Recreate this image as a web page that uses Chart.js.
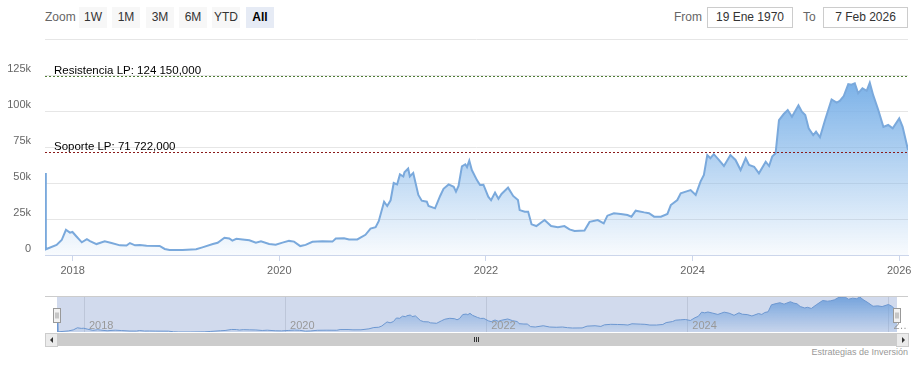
<!DOCTYPE html>
<html>
<head>
<meta charset="utf-8">
<script src="https://cdn.jsdelivr.net/npm/chart.js@4.4.1/dist/chart.umd.min.js"></script>
<style>
  body { margin: 0; width: 921px; height: 366px; background: #fff; position: relative; overflow: hidden;
         font-family: "Liberation Sans", Arial, sans-serif; }
  #zoomLbl { position: absolute; left: 45px; top: 10px; font-size: 12px; color: #666; }
  .btn { position: absolute; top: 7px; height: 21px; width: 28px; background: #f7f7f7; color: #333;
         font-size: 12px; line-height: 21px; text-align: center; }
  .btn.sel { background: #e6ebf5; font-weight: bold; color: #000; }
  .inlbl { position: absolute; top: 10px; font-size: 12px; color: #666; }
  .box { position: absolute; top: 7px; height: 19px; border: 1px solid #ccc; font-size: 12px; line-height: 19px;
         text-align: center; color: #333; background: #fff; }
  #main { position: absolute; left: 0; top: 0; }
  #nav { position: absolute; left: 45px; top: 296px; }
  #track { position: absolute; left: 45px; top: 333px; width: 863px; height: 13px; background: #f2f2f2; }
  .sbtn { position: absolute; top: 333px; width: 11px; height: 12px; background: #ebebeb; border: 1px solid #ccc; }
  .sbtn span { position: absolute; top: 3px; width: 0; height: 0; border-top: 3px solid transparent; border-bottom: 3px solid transparent; }
  #thumb { position: absolute; left: 57px; top: 333px; width: 839px; height: 13px; background: #ccc; }
  #thumb i { position: absolute; top: 4px; width: 1px; height: 5px; background: #333; }
  #credits { position: absolute; right: 13px; top: 347px; font-size: 9px; color: #999; }
</style>
</head>
<body>
<div id="zoomLbl">Zoom</div>
<div class="btn" style="left:79px">1W</div>
<div class="btn" style="left:112px">1M</div>
<div class="btn" style="left:146px">3M</div>
<div class="btn" style="left:179px">6M</div>
<div class="btn" style="left:212px">YTD</div>
<div class="btn sel" style="left:246px">All</div>
<div class="inlbl" style="left:674px">From</div>
<div class="box" style="left:707px;width:84px">19 Ene 1970</div>
<div class="inlbl" style="left:803px">To</div>
<div class="box" style="left:823px;width:83px">7 Feb 2026</div>

<canvas id="main" width="921" height="290"></canvas>
<canvas id="nav" width="863" height="37"></canvas>

<div id="track"></div>
<div class="sbtn" style="left:45px"><span style="left:4px;border-right:3px solid #333"></span></div>
<div class="sbtn" style="left:896px"><span style="left:5px;border-left:3px solid #333"></span></div>
<div id="thumb"><i style="left:417px"></i><i style="left:419px"></i><i style="left:421px"></i></div>
<div id="credits">Estrategias de Inversión</div>

<script>
// weekly-ish closes
const dates = [
  "2017-09-25","2017-09-28","2017-11-05","2017-11-23","2017-12-08","2017-12-22","2017-12-31",
  "2018-01-15","2018-02-02","2018-02-20","2018-03-03","2018-03-26","2018-04-24","2018-05-18",
  "2018-06-17","2018-07-10","2018-07-22","2018-08-09","2018-08-26","2018-09-19","2018-11-04",
  "2018-11-22","2018-12-09","2019-01-24","2019-03-13","2019-04-04","2019-05-11","2019-05-28",
  "2019-06-21","2019-07-08","2019-07-19","2019-08-02","2019-08-24","2019-09-17","2019-10-10",
  "2019-10-28","2019-11-26","2019-12-19","2020-01-12","2020-02-04","2020-02-22","2020-03-15",
  "2020-04-03","2020-04-27","2020-06-01","2020-07-07","2020-07-19","2020-08-17","2020-09-04",
  "2020-10-03","2020-11-01","2020-11-19","2020-12-07","2020-12-18","2021-01-06","2021-01-17",
  "2021-01-29","2021-02-09","2021-02-21","2021-03-03","2021-03-15","2021-03-19","2021-04-01",
  "2021-04-07","2021-04-19","2021-05-07","2021-05-19","2021-06-06","2021-06-12","2021-07-05",
  "2021-07-23","2021-08-04","2021-08-22","2021-09-09","2021-09-17","2021-09-26","2021-10-08",
  "2021-10-20","2021-10-26","2021-11-03","2021-11-12","2021-11-30","2021-12-11","2021-12-23",
  "2022-01-09","2022-01-19","2022-02-02","2022-02-14","2022-02-25","2022-03-20","2022-04-07",
  "2022-04-24","2022-04-30","2022-05-18","2022-05-30","2022-06-11","2022-06-28","2022-07-27",
  "2022-08-19","2022-09-12","2022-10-05","2022-10-23","2022-11-10","2022-12-15","2023-01-02",
  "2023-01-31","2023-02-21","2023-03-06","2023-03-29","2023-04-22","2023-05-16","2023-05-30",
  "2023-06-14","2023-07-14","2023-07-31","2023-08-18","2023-09-11","2023-10-04","2023-10-16",
  "2023-11-08","2023-11-20","2023-12-08","2023-12-25","2024-01-12","2024-01-29","2024-02-10",
  "2024-02-22","2024-03-04","2024-03-16","2024-04-03","2024-04-21","2024-05-14","2024-06-01",
  "2024-06-19","2024-07-07","2024-07-19","2024-08-06","2024-08-23","2024-09-16","2024-09-28",
  "2024-10-09","2024-10-21","2024-11-02","2024-11-19","2024-12-03","2024-12-18","2025-01-10",
  "2025-01-22","2025-02-03","2025-02-15","2025-03-03","2025-03-13","2025-03-27","2025-04-14",
  "2025-05-07","2025-05-25","2025-06-05","2025-06-19","2025-07-05","2025-07-16","2025-07-28",
  "2025-08-09","2025-08-24","2025-09-08","2025-09-19","2025-10-01","2025-10-19","2025-11-06",
  "2025-11-23","2025-12-09","2026-01-01","2026-01-13","2026-02-01"
];
const prices = [
  57000,4000,7000,10400,17500,15500,16000,
  12700,8800,11000,9700,7600,9500,8300,
  6700,6600,8300,6700,6900,6500,6300,
  4200,3500,3500,4000,5300,7600,8500,
  12000,11500,10000,11200,10700,10200,8500,
  9500,7600,7200,8600,9800,9300,6200,
  7000,9200,9500,9300,11500,11600,10700,
  10800,14000,18300,19300,23500,37000,34000,
  38000,50000,49000,56000,54500,57500,60000,
  54500,57000,41700,37700,37000,34000,32400,
  41000,46000,49000,47400,44000,48000,61500,
  63000,61000,65500,59000,52000,48600,48800,
  40500,38000,43300,39000,42400,46800,41000,
  38200,31200,30000,30000,21300,20100,24300,
  20100,19200,20100,17800,16700,17000,23000,
  24300,22000,27300,29000,28500,27800,26600,
  30800,29600,29000,26600,26600,28500,34700,
  38200,42800,44000,45100,41700,51000,55600,
  69400,67200,70000,66000,61800,69400,66000,
  59000,67200,62500,61300,56700,64800,61800,
  68300,70600,93700,97900,100700,96000,104000,
  99500,97200,88000,83300,85600,81700,93700,
  108000,105800,107000,110400,118700,118300,119200,
  112300,115800,114000,119700,111000,100700,89000,
  90300,88000,94900,89000,72900
];
const yTicks = [0, 25000, 50000, 75000, 100000, 125000, 150000];
const yearTicks = [2018, 2020, 2022, 2024, 2026];
const resistencia = 124150;
const soporte = 71722;

function toYear(s) {
  var d = new Date(s + "T00:00:00Z");
  var y = d.getUTCFullYear();
  var start = Date.UTC(y, 0, 1), end = Date.UTC(y + 1, 0, 1);
  return y + (d.getTime() - start) / (end - start);
}
var points = dates.map(function (d, i) { return { x: toYear(d), y: prices[i] }; });
var xMin = points[0].x, xMax = points[points.length - 1].x;
var topPrice = Math.max.apply(null, prices);
var lowPrice = Math.min.apply(null, prices);

Chart.defaults.font.family = '"Liberation Sans", Arial, sans-serif';
Chart.defaults.color = "#666";

function areaFill(context) {
  var chart = context.chart, a = chart.chartArea;
  if (!a) return "rgba(124,178,232,0.4)";
  var y0 = chart.scales.y.getPixelForValue(topPrice);
  var g = chart.ctx.createLinearGradient(0, y0, 0, a.bottom);
  g.addColorStop(0, "rgba(124,178,232,1)");
  g.addColorStop(1, "rgba(124,178,232,0.05)");
  return g;
}

var plotLines = [
  { value: resistencia, color: "#4f7d35", text: "Resistencia LP: 124 150,000" },
  { value: soporte, color: "#8b1a1a", text: "Soporte LP: 71 722,000" }
];

var plotLinePlugin = {
  id: "plotLinePlugin",
  afterDatasetsDraw: function (chart) {
    var ctx = chart.ctx, a = chart.chartArea, y = chart.scales.y;
    plotLines.forEach(function (l) {
      var py = Math.round(y.getPixelForValue(l.value)) + 0.5;
      ctx.save();
      ctx.strokeStyle = l.color;
      ctx.lineWidth = 1;
      ctx.setLineDash([2, 2]);
      ctx.beginPath();
      ctx.moveTo(a.left, py);
      ctx.lineTo(a.right, py);
      ctx.stroke();
      ctx.setLineDash([]);
      ctx.fillStyle = "#000";
      ctx.font = '11.5px "Liberation Sans", Arial, sans-serif';
      ctx.textBaseline = "alphabetic";
      ctx.fillText(l.text, a.left + 9, py - 3);
      ctx.restore();
    });
  }
};

new Chart(document.getElementById("main").getContext("2d"), {
  type: "line",
  data: {
    datasets: [{
      data: points,
      borderColor: "#7aa9dc",
      borderWidth: 2,
      backgroundColor: areaFill,
      fill: "origin",
      pointRadius: 0,
      tension: 0
    }]
  },
  options: {
    responsive: false,
    animation: false,
    devicePixelRatio: 1,
    layout: { padding: { left: 0, right: 13, top: 39, bottom: 0 } },
    plugins: { legend: { display: false }, tooltip: { enabled: false } },
    scales: {
      x: {
        type: "linear",
        min: xMin,
        max: xMax,
        afterBuildTicks: function (s) { s.ticks = yearTicks.map(function (v) { return { value: v }; }); },
        afterFit: function (s) { s.height = 35; },
        grid: { drawOnChartArea: false, drawTicks: true, tickLength: 6, color: "#ccd6eb" },
        border: { display: true, color: "#ccd6eb" },
        ticks: { autoSkip: false, maxRotation: 0, padding: 3, font: { size: 11 }, color: "#666",
                 callback: function (v) { return String(v); } }
      },
      y: {
        min: 0,
        max: 150000,
        afterBuildTicks: function (s) { s.ticks = yTicks.map(function (v) { return { value: v }; }); },
        afterFit: function (s) { s.width = 45; },
        grid: { color: "#e6e6e6", drawTicks: false },
        border: { display: false },
        ticks: { padding: 14, labelOffset: -6, font: { size: 11 }, color: "#666",
                 callback: function (v) { return v === 150000 ? "" : (v === 0 ? "0" : (v / 1000) + "k"); } }
      }
    }
  },
  plugins: [plotLinePlugin]
});

// navigator
var navPlugin = {
  id: "navPlugin",
  beforeDatasetsDraw: function (chart) {
    var ctx = chart.ctx, a = chart.chartArea, x = chart.scales.x;
    ctx.save();
    ctx.strokeStyle = "#e2e2e2";
    ctx.lineWidth = 1;
    yearTicks.forEach(function (v) {
      var px = Math.round(x.getPixelForValue(v)) + 0.5;
      ctx.beginPath();
      ctx.moveTo(px, a.top);
      ctx.lineTo(px, a.bottom);
      ctx.stroke();
    });
    ctx.restore();
  },
  afterDatasetsDraw: function (chart) {
    var ctx = chart.ctx, a = chart.chartArea, x = chart.scales.x;
    ctx.save();
    ctx.fillStyle = "rgba(102,133,194,0.3)";
    ctx.fillRect(a.left, a.top, a.right - a.left, a.bottom - a.top);
    ctx.strokeStyle = "#cccccc";
    ctx.beginPath();
    ctx.moveTo(0, a.top - 0.5);
    ctx.lineTo(chart.width, a.top - 0.5);
    ctx.stroke();
    ctx.fillStyle = "#999";
    ctx.font = '11px "Liberation Sans", Arial, sans-serif';
    ctx.textBaseline = "alphabetic";
    yearTicks.forEach(function (v) {
      var px = x.getPixelForValue(v);
      ctx.fillText(v === 2026 ? "2…" : String(v), px + 5, a.bottom - 3);
    });
    [a.left, a.right].forEach(function (hx) {
      var cy = (a.top + a.bottom) / 2;
      var l = Math.round(hx) - 3.5, t = Math.round(cy - 7) + 0.5;
      ctx.fillStyle = "#f2f2f2";
      ctx.strokeStyle = "#999";
      ctx.fillRect(l, t, 7, 14);
      ctx.strokeRect(l, t, 7, 14);
      ctx.beginPath();
      ctx.moveTo(l + 2.5, t + 4); ctx.lineTo(l + 2.5, t + 10);
      ctx.moveTo(l + 4.5, t + 4); ctx.lineTo(l + 4.5, t + 10);
      ctx.stroke();
    });
    ctx.restore();
  }
};

new Chart(document.getElementById("nav").getContext("2d"), {
  type: "line",
  data: {
    datasets: [{
      data: points,
      borderColor: "#6f9fd6",
      borderWidth: 1,
      backgroundColor: function (context) {
        var chart = context.chart, a = chart.chartArea;
        if (!a) return "rgba(124,178,232,0.4)";
        var g = chart.ctx.createLinearGradient(0, a.top, 0, a.bottom);
        g.addColorStop(0, "rgba(124,178,232,1)");
        g.addColorStop(1, "rgba(124,178,232,0.1)");
        return g;
      },
      fill: "origin",
      pointRadius: 0,
      tension: 0
    }]
  },
  options: {
    responsive: false,
    animation: false,
    devicePixelRatio: 1,
    layout: { padding: { left: 12, right: 11, top: 1, bottom: 1 } },
    plugins: { legend: { display: false }, tooltip: { enabled: false } },
    scales: {
      x: { type: "linear", display: false, min: xMin, max: xMax },
      y: { display: false, min: lowPrice, max: topPrice }
    }
  },
  plugins: [navPlugin]
});
</script>
</body>
</html>
